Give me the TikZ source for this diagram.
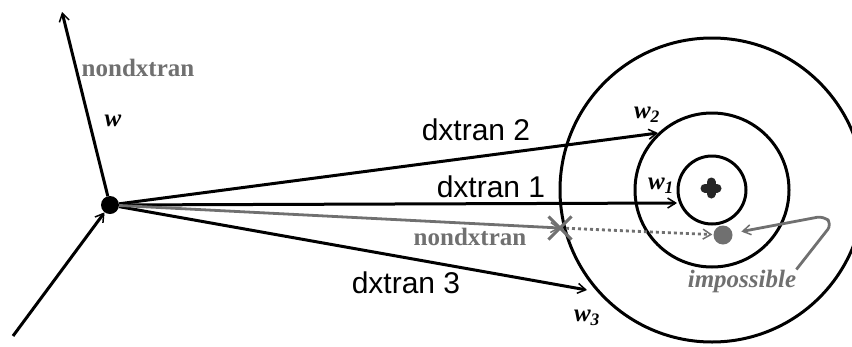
\documentclass[tikz,border=0pt]{standalone}
\usepackage{fontspec}
\setmainfont{Liberation Serif}
\setsansfont{Liberation Sans}
\usetikzlibrary{positioning, shapes, arrows.meta}

\definecolor{grey}{RGB}{112,112,112}
\tikzset{
  ray/.style={line width=3pt, -{Straight Barb[length=8pt, width=10pt, line width=1.5pt]}},
  greyray/.style={ray, grey, line width=2.8pt},
  lbl/.style={font=\sffamily\fontsize{30}{30}\selectfont, inner sep=0pt},
  glbl/.style={grey, font=\bfseries\fontsize{25}{25}\selectfont, inner sep=0pt},
  wlbl/.style={font=\bfseries\itshape\fontsize{25}{25}\selectfont, inner sep=0pt}
}

\begin{document}
\begin{tikzpicture}[x=1pt, y=-1pt]
\useasboundingbox (0,0) rectangle (852,346);
\clip (0,0) rectangle (852,346);

% detector rings
\coordinate (ctr) at (712,190);
\draw[line width=3pt] (ctr) circle[radius=152] (ctr) circle[radius=77] (ctr) circle[radius=34];
\draw[line width=9pt, black!85, line cap=round] (705,188) -- (717,188) (711,182) -- (711,194);

% collision point
\node[circle, fill, inner sep=0pt, minimum size=18pt] (src) at (110,205) {};
\coordinate (in) at (13,336);
\coordinate (up) at (62,12);
\coordinate (t1) at (677,203);
\coordinate (t2) at (658,133);
\coordinate (t3) at (587,290);
\node[cross out, draw=grey, line width=3pt, minimum size=20pt, inner sep=0pt] (xm) at (560,228) {};
\node[circle, fill=grey, inner sep=0pt, minimum size=19pt] (gdot) at (723,235) {};

\draw[ray] (in) -- (src);
\draw[ray] (src) -- (up);
\draw[ray] (src) -- (t1);
\draw[ray] (src) -- (t2);
\draw[ray] (src) -- (t3);
\draw[greyray] (src) -- (xm.center);
\draw[greyray, dash pattern=on 3pt off 3pt, shorten >=1pt] (xm.center) -- (gdot);

% labels
\node[glbl] (nd1) at (138,68) {nondxtran};
\node[wlbl] (w) at (113,121) {w};
\node[lbl] (d2) at (476,130) {dxtran 2};
\node[lbl] (d1) at (491,187) {dxtran 1};
\node[glbl] (nd2) at (470,237) {nondxtran};
\node[lbl] (d3) at (406,283) {dxtran 3};
\node[wlbl] (w2) at (647,115) {w\textsubscript{2}};
\node[wlbl] (w1) at (661,186) {w\textsubscript{1}};
\node[wlbl] (w3) at (587,318) {w\textsubscript{3}};
\node[glbl, font=\bfseries\itshape\fontsize{25}{25}\selectfont] (imp) at (742,281) {impossible};

\draw[greyray, rounded corners=7pt, shorten >=9pt] (imp.north east) -- (832,224) -- (824,216) -- (gdot);
\end{tikzpicture}
\end{document}
